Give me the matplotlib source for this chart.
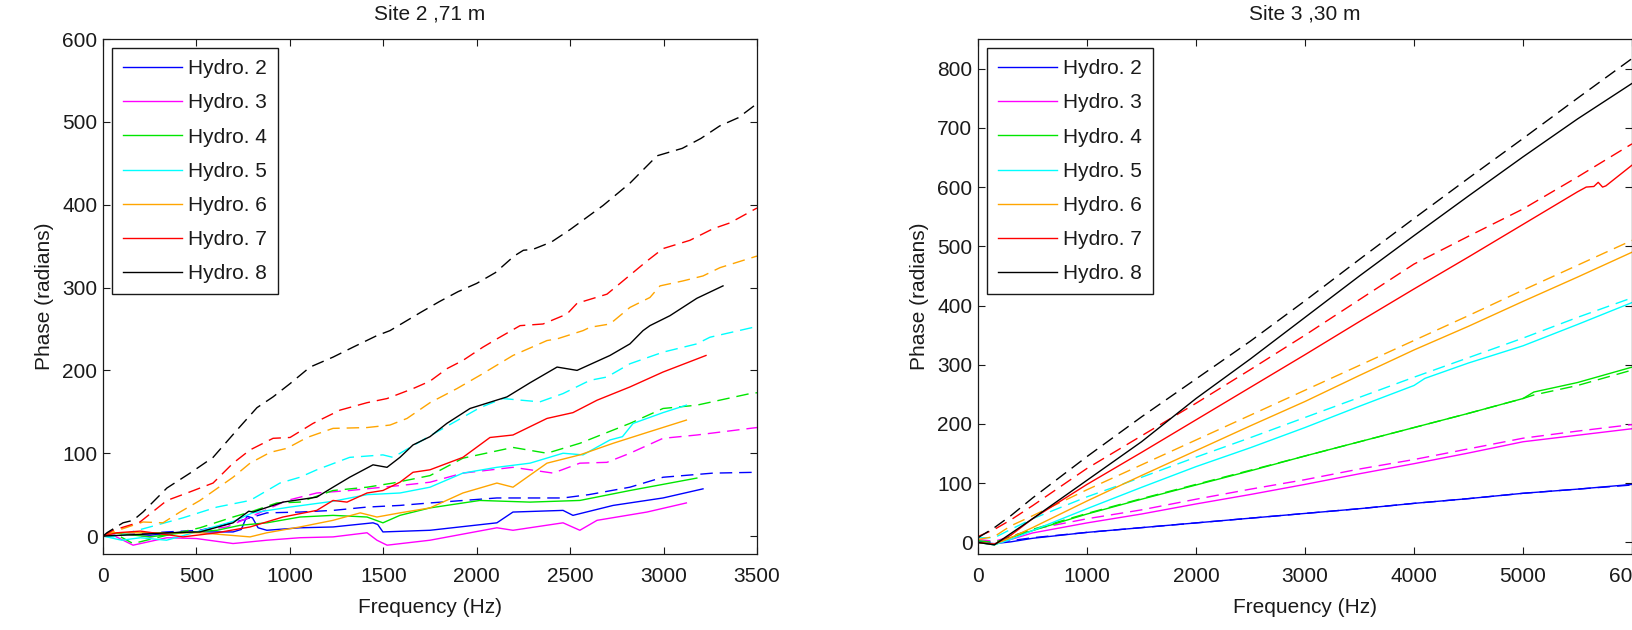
import matplotlib
matplotlib.use("Agg")
import matplotlib.pyplot as plt

s2_h2_f = [0, 54, 150, 251, 428, 696, 740, 770, 800, 830, 877, 1054, 1231, 1445, 1470, 1498, 1750, 2108, 2194, 2462, 2515, 2730, 2997, 3211]
s2_h2_p = [0, 4, 2, 1, 5, 5, 8, 24, 22, 10, 7, 10, 11, 16, 14, 5, 7, 16, 29, 31, 25, 37, 46, 57]
s2_h2m_f = [0, 342, 519, 696, 877, 1054, 1231, 1413, 1589, 1750, 2108, 2462, 2600, 2820, 2997, 3265, 3500]
s2_h2m_p = [0, 5, 7, 16, 28, 29, 31, 35, 37, 40, 46, 46, 50, 59, 71, 76, 77]

s2_h3_f = [0, 54, 161, 342, 500, 696, 877, 1054, 1231, 1413, 1466, 1520, 1750, 2108, 2194, 2462, 2552, 2644, 2911, 3122]
s2_h3_p = [0, 1, -11, -2, -3, -9, -5, -2, -1, 4, -5, -11, -5, 10, 7, 16, 7, 19, 29, 40]
s2_h3m_f = [0, 54, 251, 428, 663, 787, 985, 1144, 1320, 1498, 1589, 1750, 1926, 2194, 2409, 2552, 2697, 2820, 2997, 3178, 3463, 3500]
s2_h3m_p = [0, 4, -1, 4, 11, 23, 43, 52, 55, 59, 61, 65, 76, 83, 76, 88, 89, 100, 118, 122, 130, 131]

s2_h4_f = [0, 54, 251, 428, 610, 734, 877, 1054, 1231, 1413, 1498, 1589, 1750, 2017, 2285, 2552, 2820, 3178]
s2_h4_p = [0, 4, -1, 4, 7, 13, 16, 23, 25, 23, 16, 25, 34, 43, 41, 43, 55, 70]
s2_h4m_f = [0, 54, 161, 342, 519, 696, 787, 931, 1054, 1231, 1413, 1552, 1750, 1926, 2194, 2376, 2552, 2820, 2997, 3178, 3463, 3500]
s2_h4m_p = [0, 4, -9, 1, 10, 23, 29, 40, 41, 55, 59, 64, 73, 94, 107, 100, 112, 136, 154, 158, 172, 173]

s2_h5_f = [0, 100, 200, 340, 500, 700, 800, 1000, 1231, 1413, 1589, 1750, 1926, 2108, 2285, 2462, 2569, 2713, 2780, 2837, 2997, 3122]
s2_h5_p = [0, -5, -2, -5, 5, 18, 28, 35, 42, 50, 52, 59, 76, 83, 88, 100, 98, 116, 120, 136, 149, 158]
s2_h5m_f = [0, 54, 251, 428, 610, 787, 947, 1054, 1144, 1320, 1498, 1552, 1750, 2017, 2140, 2338, 2462, 2606, 2697, 2820, 2997, 3178, 3248, 3500]
s2_h5m_p = [0, -1, 11, 22, 35, 43, 64, 71, 80, 95, 98, 95, 121, 155, 166, 162, 172, 188, 192, 208, 222, 232, 240, 253]

s2_h6_f = [0, 54, 519, 787, 877, 1054, 1231, 1377, 1466, 1589, 1750, 1926, 2108, 2194, 2376, 2552, 2730, 2911, 3122]
s2_h6_p = [0, 4, 4, -1, 4, 11, 19, 28, 23, 28, 34, 52, 64, 59, 88, 98, 112, 125, 140]
s2_h6m_f = [0, 54, 214, 321, 412, 519, 696, 787, 894, 985, 1092, 1231, 1413, 1536, 1627, 1750, 1894, 2017, 2194, 2376, 2430, 2569, 2606, 2713, 2820, 2927, 2981, 3104, 3211, 3302, 3500]
s2_h6m_p = [0, 5, 17, 16, 29, 43, 71, 88, 101, 106, 119, 130, 131, 134, 142, 161, 178, 194, 218, 236, 238, 248, 252, 256, 276, 288, 302, 308, 314, 324, 338]

s2_h7_f = [0, 75, 200, 428, 610, 787, 963, 1144, 1231, 1306, 1413, 1498, 1589, 1659, 1750, 1926, 2071, 2194, 2376, 2515, 2644, 2820, 2997, 3227]
s2_h7_p = [0, 4, 6, -1, 4, 11, 23, 31, 43, 41, 52, 55, 65, 77, 80, 95, 119, 122, 142, 149, 164, 180, 198, 218]
s2_h7m_f = [0, 54, 198, 342, 450, 589, 696, 787, 910, 1001, 1124, 1268, 1413, 1520, 1659, 1750, 1840, 1926, 2033, 2108, 2232, 2355, 2483, 2537, 2697, 2751, 2911, 2997, 3141, 3265, 3355, 3500]
s2_h7m_p = [0, 7, 17, 43, 52, 64, 88, 104, 118, 119, 136, 152, 161, 166, 178, 187, 202, 212, 228, 238, 254, 256, 268, 281, 292, 302, 332, 347, 357, 371, 378, 396]

s2_h8_f = [0, 200, 342, 519, 696, 780, 803, 963, 1144, 1231, 1320, 1445, 1520, 1589, 1659, 1750, 1840, 1964, 2162, 2285, 2430, 2537, 2713, 2820, 2890, 2927, 3034, 3178, 3318]
s2_h8_p = [0, 2, 4, 5, 16, 30, 29, 41, 47, 59, 71, 86, 83, 95, 110, 120, 136, 154, 168, 185, 204, 200, 218, 232, 248, 254, 266, 287, 302]
s2_h8m_f = [0, 21, 107, 161, 214, 342, 466, 589, 717, 824, 910, 1001, 1108, 1231, 1338, 1466, 1536, 1700, 1800, 1900, 2000, 2100, 2200, 2250, 2300, 2400, 2500, 2676, 2820, 2965, 3100, 3200, 3300, 3400, 3500]
s2_h8m_p = [0, 4, 16, 19, 29, 58, 76, 95, 128, 155, 168, 184, 204, 216, 228, 242, 248, 270, 283, 295, 305, 318, 338, 345, 346, 355, 370, 399, 426, 459, 468, 480, 495, 505, 522]

# Site 3, 30 m
s3_f = [0, 150, 300, 500, 1000, 1500, 2000, 2500, 3000, 3500, 4000, 4500, 5000, 5500, 6000]
s3_h2 = [0, -2, 1, 7, 17, 25, 33, 41, 49, 57, 66, 74, 83, 90, 98]
s3_h2m = [2, 0, 3, 8, 17, 25, 33, 41, 49, 57, 66, 74, 83, 90, 97]
s3_h3 = [0, -3, 5, 16, 33, 48, 65, 81, 98, 116, 133, 151, 170, 181, 192]
s3_h3m = [5, 2, 10, 22, 40, 55, 73, 90, 106, 124, 140, 158, 176, 188, 199]
s3_h4_f = [0, 150, 300, 500, 1000, 1500, 2000, 2500, 3000, 3500, 4000, 4500, 5000, 5100, 5500, 6000]
s3_h4 = [0, -4, 8, 20, 48, 73, 97, 121, 146, 170, 194, 218, 243, 254, 270, 296]
s3_h4m = [3, 0, 10, 22, 49, 74, 98, 122, 146, 170, 194, 218, 243, 249, 265, 291]
s3_h5_f = [0, 150, 300, 500, 1000, 1500, 2000, 2500, 3000, 3500, 4000, 4100, 4500, 5000, 5500, 6000]
s3_h5 = [0, -4, 5, 20, 57, 93, 128, 160, 194, 230, 265, 277, 303, 332, 368, 405]
s3_h5m = [8, 8, 22, 40, 77, 110, 144, 177, 211, 245, 279, 312, 345, 380, 413]
s3_h6 = [0, -3, 8, 25, 70, 113, 155, 197, 238, 282, 325, 365, 407, 448, 490]
s3_h6m = [5, 10, 28, 45, 89, 131, 173, 215, 257, 299, 341, 383, 426, 468, 510]
s3_h7_f = [0, 150, 300, 500, 1000, 1500, 2000, 2500, 3000, 3500, 4000, 4500, 5000, 5500, 5580, 5650, 5690, 5730, 5760, 6000]
s3_h7 = [0, -3, 12, 40, 98, 152, 207, 262, 317, 373, 428, 482, 537, 592, 600, 601, 608, 600, 602, 637]
s3_h7m = [10, 22, 38, 62, 125, 180, 235, 292, 350, 410, 470, 517, 563, 617, 673]
s3_h8 = [0, -4, 15, 40, 105, 170, 243, 310, 380, 450, 518, 585, 651, 715, 775]
s3_h8m = [8, 25, 45, 75, 145, 212, 276, 340, 408, 478, 547, 615, 682, 750, 817]

labels = ["Hydro. 2", "Hydro. 3", "Hydro. 4", "Hydro. 5", "Hydro. 6", "Hydro. 7", "Hydro. 8"]
colors = ["#0000ff", "#ff00ff", "#00e600", "#00ffff", "#ffa500", "#ff0000", "#000000"]

site2 = [(s2_h2_f, s2_h2_p, s2_h2m_f, s2_h2m_p),
         (s2_h3_f, s2_h3_p, s2_h3m_f, s2_h3m_p),
         (s2_h4_f, s2_h4_p, s2_h4m_f, s2_h4m_p),
         (s2_h5_f, s2_h5_p, s2_h5m_f, s2_h5m_p),
         (s2_h6_f, s2_h6_p, s2_h6m_f, s2_h6m_p),
         (s2_h7_f, s2_h7_p, s2_h7m_f, s2_h7m_p),
         (s2_h8_f, s2_h8_p, s2_h8m_f, s2_h8m_p)]
site3 = [(s3_f, s3_h2, s3_f, s3_h2m),
         (s3_f, s3_h3, s3_f, s3_h3m),
         (s3_h4_f, s3_h4, s3_h4_f, s3_h4m),
         (s3_h5_f, s3_h5, s3_f, s3_h5m),
         (s3_f, s3_h6, s3_f, s3_h6m),
         (s3_h7_f, s3_h7, s3_f, s3_h7m),
         (s3_f, s3_h8, s3_f, s3_h8m)]

plt.rcParams["font.family"] = ["Liberation Sans", "DejaVu Sans"]
plt.rcParams["font.size"] = 15
plt.rcParams["text.color"] = "#1a1a1a"
plt.rcParams["axes.labelcolor"] = "#1a1a1a"
plt.rcParams["xtick.color"] = "#1a1a1a"
plt.rcParams["ytick.color"] = "#1a1a1a"

W, H = 1633, 630
fig = plt.figure(figsize=(W / 100, H / 100), dpi=100)
ax1 = fig.add_axes([103 / W, 75.7 / H, 654 / W, 515.3 / H])
ax2 = fig.add_axes([978 / W, 75.7 / H, 654 / W, 515.3 / H])


def draw(ax, series, title, xmax, xstep, ylim, ymax):
    for (f, p, fm, pm), c, lab in zip(series, colors, labels):
        ax.plot(f, p, color=c, lw=1.0, label=lab)
        ax.plot(fm, pm, color=c, lw=1.0, dashes=(9, 5))
    ax.set_xlim(0, xmax)
    ax.set_ylim(*ylim)
    ax.set_xticks(range(0, xmax + 1, xstep))
    ax.set_yticks(range(0, ymax + 1, 100))
    ax.tick_params(direction="in", length=5, width=0.8, top=True, right=True, labelsize=15)
    ax.tick_params(axis="x", pad=9)
    ax.tick_params(axis="y", pad=4)
    for s in ax.spines.values():
        s.set_linewidth(0.9)
        s.set_color("#1a1a1a")
    ax.set_title(title, fontsize=15, pad=14)
    ax.set_xlabel("Frequency (Hz)", fontsize=15, labelpad=9)
    ax.set_ylabel("Phase (radians)", fontsize=15, labelpad=6)
    leg = ax.legend(loc="upper left", fancybox=False, edgecolor="#1a1a1a", framealpha=1,
                    handlelength=2.8, handletextpad=0.3, labelspacing=0.73,
                    borderpad=0.52, borderaxespad=0.45, fontsize=15)
    leg.get_frame().set_linewidth(1.0)


draw(ax1, site2, "Site 2 ,71 m", 3500, 500, (-22, 600), 600)
draw(ax2, site3, "Site 3 ,30 m", 6000, 1000, (-20, 850), 800)

fig.savefig("out.png", dpi=100)
